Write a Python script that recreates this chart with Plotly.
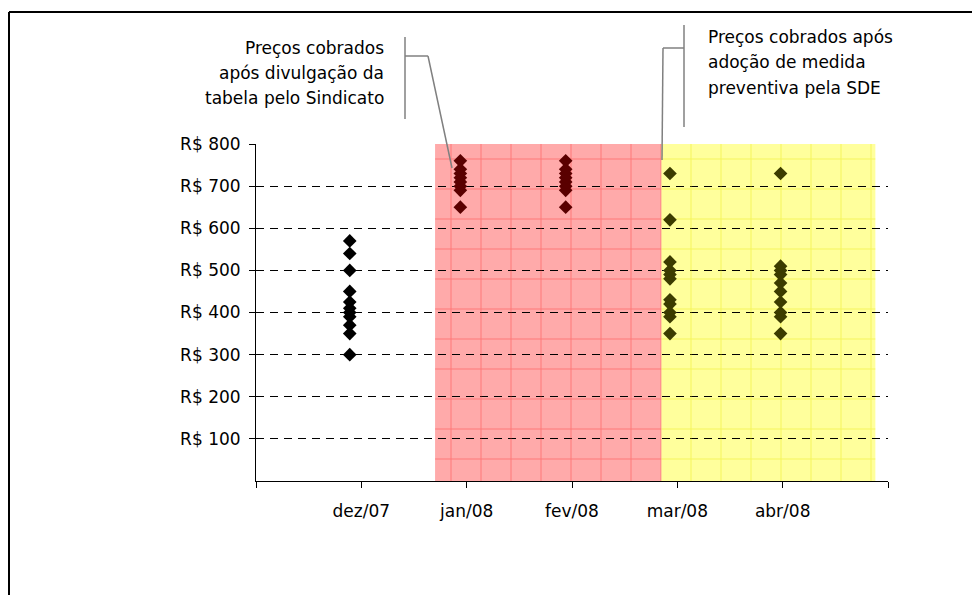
import plotly.graph_objects as go

# ---------------- data ----------------
meses = ["dez/07", "jan/08", "fev/08", "mar/08", "abr/08"]
x_coleta = [0.89, 1.94, 2.94, 3.93, 4.98]          # position of each survey on the month axis
precos_dez07 = [300, 350, 370, 390, 400, 410, 425, 450, 500, 540, 570]
precos_jan08 = [650, 690, 700, 710, 720, 730, 740, 760]
precos_fev08 = [650, 690, 700, 710, 720, 730, 740, 760]
precos_mar08 = [350, 390, 400, 420, 430, 480, 490, 500, 520, 620, 730]
precos_abr08 = [350, 390, 400, 425, 450, 470, 490, 500, 510, 730]
y_ticks = [100, 200, 300, 400, 500, 600, 700, 800]
y_ticktext = ["R$ 100", "R$ 200", "R$ 300", "R$ 400", "R$ 500", "R$ 600", "R$ 700", "R$ 800"]
periodo_sindicato = [1.70, 3.85]
periodo_sde = [3.85, 5.88]

texto_1 = ["Preços cobrados", "após divulgação da", "tabela pelo Sindicato"]
texto_2 = ["Preços cobrados após", "adoção de medida", "preventiva pela SDE"]

# ---------------- layout constants (target page pixels) ----------------
OFF = 8                      # page body margin
W, H = 980 - OFF, 595 - OFF
L, R, T, B = 256, 888, 144, 481   # plot area in page pixels
FONT = "DejaVu Sans"

def xp(px):
    return (px - L) / (R - L)

def yp(py):
    return (B - py) / (B - T)

series = [
    (precos_dez07, "#000000"),
    (precos_jan08, "#5a0000"),
    (precos_fev08, "#5a0000"),
    (precos_mar08, "#3c3c00"),
    (precos_abr08, "#3c3c00"),
]

fig = go.Figure()

# texture of the shaded periods (transparent background, pattern only)
for per, fg in [(periodo_sindicato, "#ff3030"), (periodo_sde, "#e8e800")]:
    fig.add_trace(go.Bar(
        x=[(per[0] + per[1]) / 2], y=[800], base=[0], width=[per[1] - per[0]],
        marker=dict(color="rgba(0,0,0,0)", line=dict(width=0),
                    pattern=dict(shape="+", fgcolor=fg, fgopacity=0.45, size=30,
                                 solidity=0.06, fillmode="overlay")),
        hoverinfo="skip", showlegend=False,
    ))

for i, (vals, col) in enumerate(series):
    fig.add_trace(go.Scatter(
        x=[x_coleta[i]] * len(vals), y=vals, mode="markers",
        marker=dict(symbol="diamond", size=10.5, color=col, line=dict(width=0)),
        name=meses[i], showlegend=False,
    ))

shapes = []
# shaded periods
shapes.append(dict(type="rect", xref="x", yref="y", x0=periodo_sindicato[0], x1=periodo_sindicato[1],
                   y0=0, y1=800, fillcolor="#ffaaaa", line=dict(width=0), layer="below"))
shapes.append(dict(type="rect", xref="x", yref="y", x0=periodo_sde[0], x1=periodo_sde[1],
                   y0=0, y1=800, fillcolor="#ffff9c", line=dict(width=0), layer="below"))

# outer frame (only left & top edges visible)
shapes.append(dict(type="line", xref="paper", yref="paper", x0=xp(9), x1=xp(1100), y0=yp(12), y1=yp(12),
                   line=dict(color="black", width=2)))
shapes.append(dict(type="line", xref="paper", yref="paper", x0=xp(9), x1=xp(9), y0=yp(12), y1=yp(700),
                   line=dict(color="black", width=2)))

grey = "#808080"
# bracket 1
for (a, b, c, d) in [(405, 37, 405, 119), (405, 56, 428, 56), (428, 56, 452, 168)]:
    shapes.append(dict(type="line", xref="paper", yref="paper", x0=xp(a), y0=yp(b), x1=xp(c), y1=yp(d),
                       line=dict(color=grey, width=1.5)))
# bracket 2
for (a, b, c, d) in [(684, 25, 684, 127), (663, 48, 684, 48), (663, 48, 662, 160)]:
    shapes.append(dict(type="line", xref="paper", yref="paper", x0=xp(a), y0=yp(b), x1=xp(c), y1=yp(d),
                       line=dict(color=grey, width=1.5)))

annotations = []
for k, line in enumerate(texto_1):
    annotations.append(dict(xref="paper", yref="paper", x=xp(386), y=yp(48 + 25 * k), text=line,
                            showarrow=False, xanchor="right", yanchor="middle",
                            font=dict(family=FONT, size=17, color="black")))
for k, line in enumerate(texto_2):
    annotations.append(dict(xref="paper", yref="paper", x=xp(706), y=yp(37 + 25.5 * k), text=line,
                            showarrow=False, xanchor="left", yanchor="middle",
                            font=dict(family=FONT, size=17, color="black")))

fig.update_layout(
    width=W, height=H,
    margin=dict(l=L - OFF, r=W - (R - OFF), t=T - OFF, b=H - (B - OFF), pad=0),
    paper_bgcolor="white", plot_bgcolor="white",
    shapes=shapes, annotations=annotations,
    showlegend=False, barmode="overlay",
    font=dict(family=FONT, size=17, color="black"),
    xaxis=dict(
        range=[0, 6], tickmode="array", tickvals=[0, 1, 2, 3, 4, 5, 6],
        ticktext=[""] + meses + [""],
        showgrid=False, zeroline=False, showline=True, linecolor="black", linewidth=1,
        ticks="outside", ticklen=6, tickcolor="black", ticklabelstandoff=9,
        tickfont=dict(family=FONT, size=17, color="black"),
    ),
    yaxis=dict(
        range=[0, 800], tickmode="array", tickvals=y_ticks, ticktext=y_ticktext,
        showgrid=True, gridcolor="black", gridwidth=1, griddash="8px,6px",
        zeroline=False, showline=True, linecolor="black", linewidth=1,
        ticks="outside", ticklen=6, tickcolor="black", ticklabelstandoff=5,
        tickfont=dict(family=FONT, size=17, color="black"),
    ),
)

fig.write_html("out.html")
